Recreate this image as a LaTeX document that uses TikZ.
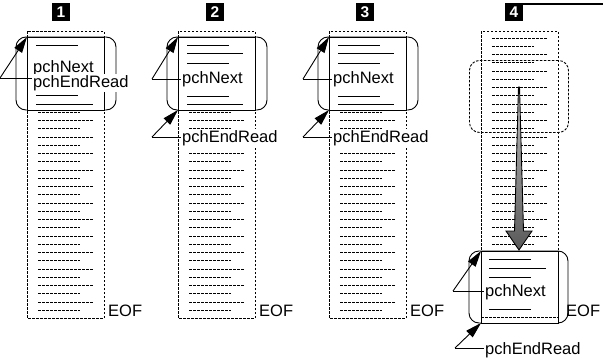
\documentclass[tikz,border=0pt]{standalone}
\usepackage{fontspec}
\setmainfont{Liberation Sans}
\usetikzlibrary{arrows.meta}
\tikzset{
 lbl/.style={font=\fontsize{16.5}{18}\selectfont, inner sep=1.5pt, fill=white, anchor=base west},
 eof/.style={font=\fontsize{16.5}{18}\selectfont, inner sep=0pt, anchor=base west},
 colborder/.style={draw, line width=0.9pt, dash pattern=on 2.5pt off 1.5pt},
 fillline/.style={line width=0.9pt, dash pattern=on 2.5pt off 1.5pt},
 solidline/.style={line width=0.9pt},
 pointer/.style={line width=0.9pt, -{Triangle[length=16pt,width=9pt]}},
 numbox/.style={fill=black, text=white, font=\fontsize{15.5}{15.5}\selectfont\bfseries, minimum width=18pt, minimum height=18pt, inner sep=0pt},
 outerbox/.style={draw, fill=white, line width=0.9pt, rounded corners=10pt, inner sep=0pt, outer sep=0pt, anchor=north west},
 innerbox/.style={draw, fill=white, line width=0.9pt, inner sep=0pt, outer sep=0pt, anchor=north west, minimum width=77pt},
}
\newcommand\drawfilllines[1]{%
 \foreach \k in {0,...,33}{%
   \pgfmathsetmacro\yy{38+8.25*\k}%
   \ifodd\k
     \draw[fillline] (#1+11,\yy) -- (#1+53,\yy);
   \else
     \draw[fillline] (#1+11,\yy) -- (#1+66,\yy);
   \fi
 }}
\begin{document}
\begin{tikzpicture}[x=1pt,y=-1pt]
\useasboundingbox (0,0) rectangle (603,359);

% number boxes
\node[numbox] (n1) at (61,12) {1};
\node[numbox] (n2) at (215,12) {2};
\node[numbox] (n3) at (365,12) {3};
\node[numbox] (n4) at (514,12) {4};
\coordinate (edge) at (603,3);
\draw[line width=1.8pt] ([yshift=-0.9pt]n4.north east) -- ([yshift=-0.9pt]n4.north east -| edge);

% ---------- panel 1 ----------
\draw[colborder] (27,31) rectangle (104,318);
\drawfilllines{27}
\node[outerbox, minimum width=100pt, minimum height=73pt] (o1) at (16,37) {};
\node[innerbox, minimum height=73pt] (b1) at (27,37) {};
\draw[solidline] (36,45) -- (78,45);
\draw[solidline] (36,95) -- (78,95);
\draw[solidline] (36,104) -- (93,104);
\node[lbl] (t1a) at (31.5,72) {pchNext};
\node[lbl] (t1b) at (31.5,87) {pchEndRead};
\coordinate (s1) at (0,78);
\draw[solidline] (s1) -- (s1 -| t1a.west);
\draw[pointer] (s1) -- (b1.north west);
\node[eof] (e1) at (108,316) {EOF};

% ---------- panel 2 ----------
\draw[colborder] (178,31) rectangle (255,318);
\drawfilllines{178}
\node[outerbox, minimum width=100pt, minimum height=73pt] (o2) at (167,37) {};
\node[innerbox, minimum height=73pt] (b2) at (178,37) {};
\draw[solidline] (187,45) -- (229,45);
\draw[solidline] (187,53) -- (243,53);
\draw[solidline] (187,63) -- (229,63);
\draw[solidline] (187,96) -- (229,96);
\draw[solidline] (187,104) -- (243,104);
\node[lbl] (t2a) at (180.5,83) {pchNext};
\node[lbl] (t2b) at (180.5,142) {pchEndRead};
\coordinate (s2a) at (152,79);
\coordinate (s2b) at (152,137);
\draw[solidline] (s2a) -- (s2a -| t2a.west);
\draw[pointer] (s2a) -- (b2.north west);
\draw[solidline] (s2b) -- (s2b -| t2b.west);
\draw[pointer] (s2b) -- (b2.south west);
\node[eof] (e2) at (259,316) {EOF};

% ---------- panel 3 ----------
\draw[colborder] (329,31) rectangle (406,318);
\drawfilllines{329}
\node[outerbox, minimum width=100pt, minimum height=73pt] (o3) at (318,37) {};
\node[innerbox, minimum height=73pt] (b3) at (329,37) {};
\draw[solidline] (338,45) -- (380,45);
\draw[solidline] (338,53) -- (394,53);
\draw[solidline] (338,63) -- (380,63);
\draw[solidline] (338,96) -- (380,96);
\draw[solidline] (338,104) -- (394,104);
\node[lbl] (t3a) at (331.5,83) {pchNext};
\node[lbl] (t3b) at (331.5,142) {pchEndRead};
\coordinate (s3a) at (303,79);
\coordinate (s3b) at (303,137);
\draw[solidline] (s3a) -- (s3a -| t3a.west);
\draw[pointer] (s3a) -- (b3.north west);
\draw[solidline] (s3b) -- (s3b -| t3b.west);
\draw[pointer] (s3b) -- (b3.south west);
\node[eof] (e3) at (410,316) {EOF};

% ---------- panel 4 ----------
\draw[colborder] (481,31) rectangle (558,318);
\drawfilllines{481}
\node[draw, line width=0.9pt, dash pattern=on 2.5pt off 1.5pt, rounded corners=10pt, inner sep=0pt, anchor=north west, minimum width=99pt, minimum height=72pt] (old) at (469,60) {};
\path[draw=black, line width=0.9pt, top color=black!25, bottom color=black!65]
  (518.5,87) -- (519.5,87) -- (523.5,231) -- (532,231) -- (519,250) -- (506,231) -- (514.5,231) -- cycle;
\node[outerbox, minimum width=99pt, minimum height=72pt] (o4) at (469,251) {};
\node[innerbox, minimum height=72pt] (b4) at (481,251) {};
\draw[solidline] (489,259) -- (531,259);
\draw[solidline] (489,268) -- (546,268);
\draw[solidline] (489,277) -- (531,277);
\draw[solidline] (489,309) -- (531,309);
\draw[fillline] (481,317) -- (558,317);
\node[lbl] (t4a) at (483.5,296) {pchNext};
\node[lbl] (t4b) at (483.5,354) {pchEndRead};
\coordinate (s4a) at (453,291);
\coordinate (s4b) at (455,348);
\draw[solidline] (s4a) -- (s4a -| t4a.west);
\draw[pointer] (s4a) -- (b4.north west);
\draw[solidline] (s4b) -- (s4b -| t4b.west);
\draw[pointer] (s4b) -- (b4.south west);
\node[eof] (e4) at (566,316) {EOF};
\end{tikzpicture}
\end{document}
